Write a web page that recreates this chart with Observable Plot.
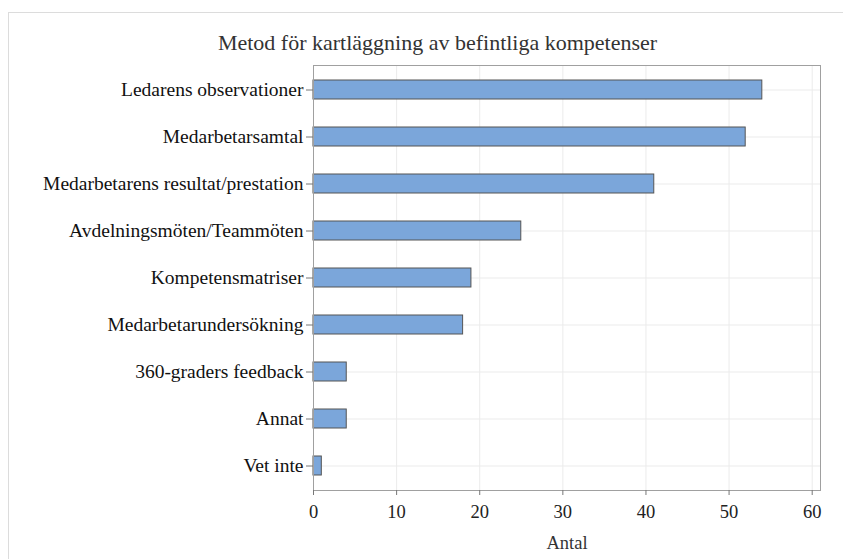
<!DOCTYPE html>
<html>
<head>
<meta charset="utf-8">
<script src="https://cdn.jsdelivr.net/npm/d3@7"></script>
<script src="https://cdn.jsdelivr.net/npm/@observablehq/plot@0.6"></script>
<style>
  html, body { margin: 0; padding: 0; background: #fff; overflow: hidden; }
  #wrap { position: relative; width: 843px; height: 559px; }
  #border { position: absolute; left: 8px; top: 12px; width: 900px; height: 600px; border: 1px solid #dcdcdc; box-sizing: border-box; pointer-events: none; }
  #chart { position: absolute; left: 0; top: 0; }
  #chart svg text { font-family: "Liberation Serif", "Times New Roman", serif; }
</style>
</head>
<body>
<div id="wrap"><div id="chart"></div><div id="border"></div></div>
<script>
const title = "Metod för kartläggning av befintliga kompetenser";
const xLabel = "Antal";
const categories = [
  "Ledarens observationer",
  "Medarbetarsamtal",
  "Medarbetarens resultat/prestation",
  "Avdelningsmöten/Teammöten",
  "Kompetensmatriser",
  "Medarbetarundersökning",
  "360-graders feedback",
  "Annat",
  "Vet inte"
];
const counts = [54, 52, 41, 25, 19, 18, 4, 4, 1];
const xTicks = [0, 10, 20, 30, 40, 50, 60];

const data = categories.map((c, i) => ({category: c, count: counts[i]}));
const serif = "'Liberation Serif', 'Times New Roman', serif";

const chart = Plot.plot({
  width: 843,
  height: 559,
  marginLeft: 313,
  marginRight: 23,
  marginTop: 65,
  marginBottom: 69,
  style: {fontFamily: serif, fontSize: "18px", color: "#222", background: "transparent"},
  x: {domain: [0, 61], ticks: xTicks, label: null},
  y: {domain: categories, paddingInner: 0.6, paddingOuter: 0.3, label: null},
  marks: [
    Plot.gridX(xTicks, {stroke: "#ebebeb", strokeOpacity: 1}),
    Plot.gridY(categories, {stroke: "#ebebeb", strokeOpacity: 1}),
    Plot.barX(data, {x: "count", y: "category", fill: "#7ba6da", stroke: "#555", strokeWidth: 1}),
    Plot.frame({stroke: "#a0a0a0"}),
    Plot.axisX({ticks: xTicks, tickSize: 5, tickPadding: 9, fontSize: 18.5, fontFamily: serif, stroke: "#777", fill: "#222", label: null}),
    Plot.axisY({tickSize: 7, tickPadding: 3, fontSize: 19.5, fontFamily: serif, stroke: "#777", fill: "#111", label: null}),
    Plot.text([title], {text: d => d, frameAnchor: "top-left", dx: 124, dy: -23, fontSize: 22, fontFamily: serif, textAnchor: "middle", lineAnchor: "middle", fill: "#333"}),
    Plot.text([xLabel], {text: d => d, frameAnchor: "bottom", dy: 53, fontSize: 18.5, fontFamily: serif, lineAnchor: "middle", fill: "#333"})
  ]
});
document.getElementById("chart").appendChild(chart);
</script>
</body>
</html>
